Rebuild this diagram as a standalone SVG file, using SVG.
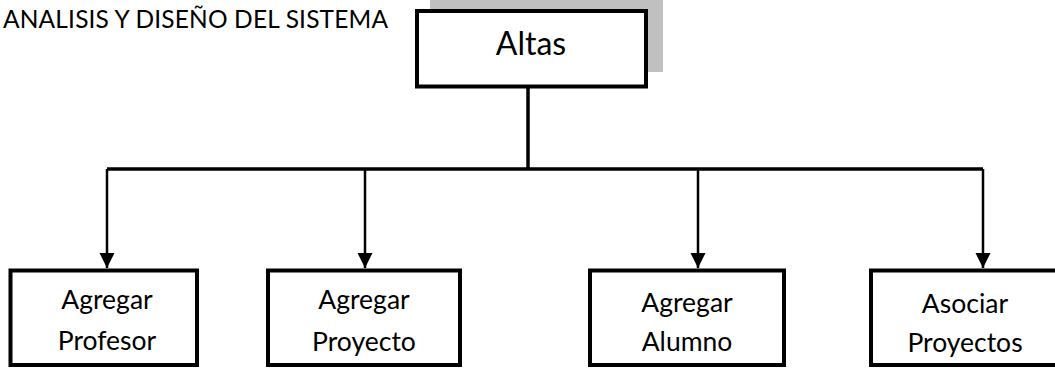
<svg xmlns="http://www.w3.org/2000/svg" width="1055" height="376" viewBox="0 0 1055 376">
  <style>
    .box { fill: #ffffff; stroke: #000000; stroke-width: 4; }
    .lbl { font-family: Lato, "Liberation Sans", sans-serif; font-size: 26.5px; fill: #000000; text-anchor: middle; }
    .title { font-family: Lato, "Liberation Sans", sans-serif; font-size: 24.5px; fill: #000000; }
    .trunk { fill: none; stroke: #000000; stroke-width: 3.5; }
    .drop { fill: none; stroke: #000000; stroke-width: 2.5; }
  </style>
  <defs>
    <marker id="arrow" markerUnits="userSpaceOnUse" markerWidth="16" markerHeight="16" viewBox="0 0 16 16" refX="15" refY="8" orient="auto">
      <path d="M0,0.5 L15,8 L0,15.5 Z" fill="#000000"/>
    </marker>
  </defs>

  <rect width="1055" height="376" fill="#ffffff"/>

  <text class="title" x="3" y="28" textLength="385" lengthAdjust="spacing">ANALISIS Y DISEÑO DEL SISTEMA</text>

  <!-- shaded panel behind the root box -->
  <rect x="430" y="0" width="233" height="72" fill="#c0c0c0"/>

  <g id="connectors">
    <path class="trunk" d="M528,88 V169"/>
    <path class="trunk" d="M107,169 H983"/>
    <path class="drop" d="M107,169 V268" marker-end="url(#arrow)"/>
    <path class="drop" d="M365,169 V268" marker-end="url(#arrow)"/>
    <path class="drop" d="M698,169 V268" marker-end="url(#arrow)"/>
    <path class="drop" d="M983,169 V268" marker-end="url(#arrow)"/>
  </g>

  <g id="altas">
    <rect class="box" x="417" y="11" width="229" height="75.5"/>
    <text class="lbl" x="531" y="55" style="font-size:32px">Altas</text>
  </g>

  <g id="agregar-profesor">
    <rect class="box" x="10.5" y="270.5" width="186.5" height="94.5"/>
    <text class="lbl" x="107" y="309">Agregar</text>
    <text class="lbl" x="107" y="350">Profesor</text>
  </g>

  <g id="agregar-proyecto">
    <rect class="box" x="268" y="270.5" width="192" height="94.5"/>
    <text class="lbl" x="364" y="309">Agregar</text>
    <text class="lbl" x="364" y="351">Proyecto</text>
  </g>

  <g id="agregar-alumno">
    <rect class="box" x="590" y="270.5" width="194" height="94.5"/>
    <text class="lbl" x="687" y="312">Agregar</text>
    <text class="lbl" x="687" y="351">Alumno</text>
  </g>

  <g id="asociar-proyectos">
    <rect class="box" x="871" y="270.5" width="188" height="94.5"/>
    <text class="lbl" x="965" y="313">Asociar</text>
    <text class="lbl" x="965" y="352">Proyectos</text>
  </g>
</svg>
